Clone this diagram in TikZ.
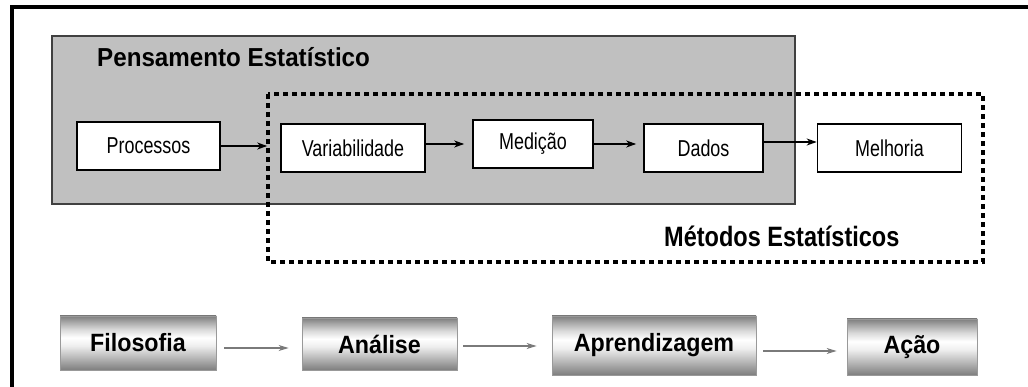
\documentclass[tikz,border=0pt]{standalone}
\usepackage{fontspec}
\setmainfont{Liberation Sans}
\newfontfamily\regn[FakeStretch=0.78]{Liberation Sans}
\newfontfamily\bldn[FakeStretch=0.93]{Liberation Sans}
\newfontfamily\bldm[FakeStretch=0.84]{Liberation Sans}
\usetikzlibrary{arrows.meta,calc}
\definecolor{boxgray}{HTML}{C0C0C0}
\definecolor{arrgray}{HTML}{7A7A7A}
\definecolor{mA}{HTML}{7E7E7E}
\definecolor{mB}{HTML}{A4A4A4}
\definecolor{mC}{HTML}{DADADA}
\definecolor{mD}{HTML}{FFFFFF}
\definecolor{mE}{HTML}{EEEEEE}
\definecolor{mF}{HTML}{BDBDBD}
\pgfdeclareverticalshading{metalshade}{100bp}{%
  color(0bp)=(mA); color(25bp)=(mA); color(37.5bp)=(mF); color(47.5bp)=(mE);
  color(55bp)=(mD); color(62.5bp)=(mC); color(70bp)=(mB); color(75bp)=(mA); color(100bp)=(mA)}
\tikzset{
  procbox/.style={draw=black, line width=1.6pt, fill=white, inner sep=0pt,
    font=\regn\fontsize{23}{26}\selectfont},
  metalbox/.style={draw=gray!80, line width=0.8pt, inner sep=0pt,
    shading=metalshade,
    font=\bldn\bfseries\fontsize{25}{28}\selectfont},
  arr/.style={line width=1.4pt, -{Stealth[length=10pt,width=7pt,inset=3pt]}},
  garr/.style={draw=arrgray, line width=1.2pt, -{Stealth[length=10pt,width=6pt,inset=3pt]}},
  titletext/.style={font=\bldn\bfseries\fontsize{26}{30}\selectfont, inner sep=0pt},
}
\begin{document}
\begin{tikzpicture}[x=1pt,y=-1pt]
\useasboundingbox (0,0) rectangle (1028,387);
% frame lines
\draw[line width=3.6pt] (12,387) -- (12,7) -- (1028,7);
% gray region
\draw[fill=boxgray, draw=black!75, line width=1.3pt] (52,36) rectangle (795,204);
\node[titletext, anchor=base west] (tpe) at (97,67) {Pensamento Estatístico};
% dotted region
\draw[line width=4.5pt, dash pattern=on 5pt off 4pt] (268,94) rectangle (983,262);
\node[titletext, anchor=base west, font=\bldm\bfseries\fontsize{28}{32}\selectfont] (tme) at (664,247) {Métodos Estatísticos};
% top row
\node[procbox, minimum width=143pt, minimum height=48pt] (P) at (148.5,146) {Processos};
\node[procbox, minimum width=144pt, minimum height=48pt] (V) at (353,148) {Variabilidade};
\node[procbox, minimum width=120pt, minimum height=48pt] (M) at (533,144) {\raisebox{3pt}{Medição}};
\node[procbox, minimum width=119pt, minimum height=48pt] (D) at (703.5,148) {Dados};
\node[procbox, minimum width=144pt, minimum height=48pt] (Mel) at (889.5,148) {Melhoria};
\draw[arr, shorten >=13pt] (P.east) -- (P.east -| V.west);
\draw[arr, shorten >=8pt] (V.east |- M.west) -- (M.west);
\draw[arr, shorten >=7pt] (M.east) -- (M.east -| D.west);
\draw[arr] ([yshift=6pt]D.east) -- ([yshift=6pt]D.east -| Mel.west);
% bottom row
\node[metalbox, minimum width=156pt, minimum height=54pt] (F) at (138,343) {Filosofia};
\node[metalbox, minimum width=155pt, minimum height=52pt] (A) at (379.5,344) {Análise};
\node[metalbox, minimum width=204pt, minimum height=59pt] (Ap) at (654,345.5) {\raisebox{2pt}{Aprendizagem}};
\node[metalbox, minimum width=130pt, minimum height=56pt] (Ac) at (912,347) {\raisebox{-3pt}{Ação}};
\draw[garr, shorten <=8pt, shorten >=13pt] ([yshift=-5pt]F.east) -- ([yshift=-5pt]F.east -| A.west);
\draw[garr, shorten <=6pt, shorten >=15pt] ([yshift=-2pt]A.east) -- ([yshift=-2pt]A.east -| Ap.west);
\draw[garr, shorten <=7pt, shorten >=10pt] ([yshift=-5.5pt]Ap.east) -- ([yshift=-5.5pt]Ap.east -| Ac.west);
\end{tikzpicture}
\end{document}
